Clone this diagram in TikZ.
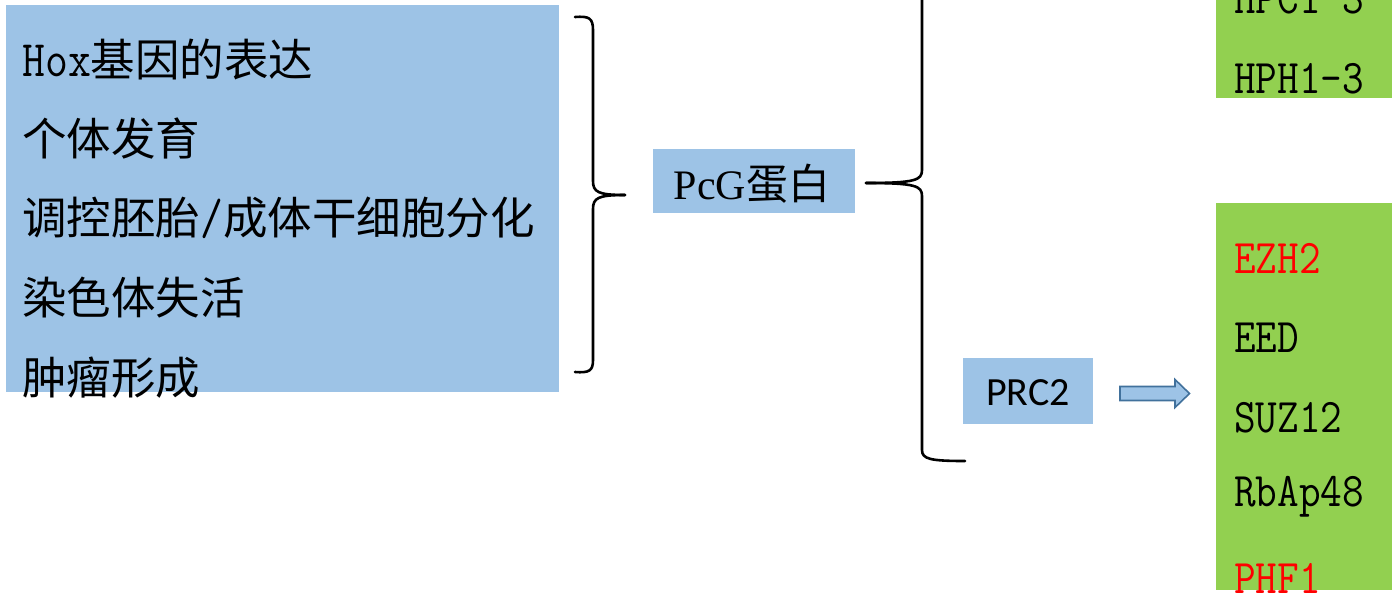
\documentclass[tikz,border=0pt]{standalone}
\usepackage{fontspec}
\usepackage{graphicx}
\newfontfamily\cjk{Noto Sans CJK SC}
\newfontfamily\tmsfont{Liberation Serif}
\newfontfamily\calfont{Carlito}
\definecolor{boxblue}{HTML}{9DC3E6}
\definecolor{boxgreen}{HTML}{92D050}
\definecolor{arrowedge}{HTML}{41719C}
\definecolor{tred}{HTML}{FF0000}
\newcommand{\mt}[1]{\scalebox{1}[1.15]{\ttfamily #1}}
\begin{document}
\begin{tikzpicture}[x=1pt,y=-1pt,
  panel/.style={inner sep=0pt, anchor=north west, draw=none},
  lbl/.style={inner sep=0pt, anchor=west, font=\cjk\fontsize{44.5}{50}\selectfont},
  mono/.style={inner sep=0pt, anchor=west, font=\fontsize{42}{48}\selectfont},
  brace/.style={line width=2.6pt, line cap=round, line join=round},
]
\useasboundingbox (0,0) rectangle (1392,592);
\clip (0,0) rectangle (1392,592);

% left panel
\node[panel, fill=boxblue, minimum width=553pt, minimum height=387pt] (left) at (6,5) {};
\node[lbl] (t1) at (22,59) {\mt{Hox}基因的表达};
\node[lbl] (t2) at (22,138) {个体发育};
\node[lbl] (t3) at (22,218) {调控胚胎\mt{/}成体干细胞分化};
\node[lbl] (t4) at (22,298) {染色体失活};
\node[lbl] (t5) at (22,378) {肿瘤形成};

% right brace after left panel
\coordinate (b1top) at (575,17);
\coordinate (b1tip) at (625,195);
\coordinate (b1bot) at (575,372);
\draw[brace] (b1top) .. controls (589,16) and (593,18) .. (593,30) -- (593,181)
  .. controls (593,192) and (598,195) .. (b1tip);
\draw[brace] (b1tip) .. controls (598,195) and (593,198) .. (593,209) -- (593,360)
  .. controls (593,371) and (589,373) .. (b1bot);

% PcG box
\node[panel, fill=boxblue, minimum width=202pt, minimum height=64pt] (pcg) at (653,149) {};
\node[inner sep=0pt, font=\fontsize{42}{48}\selectfont] (pcgt) at (752,184) {{\tmsfont PcG}{\cjk 蛋白}};

% left brace
\coordinate (b2top) at (965,-95);
\coordinate (b2tip) at (866,183);
\coordinate (b2bot) at (965,461);
\draw[brace] (b2top) .. controls (930,-95) and (922,-92) .. (922,-80) -- (922,170)
  .. controls (922,180) and (916,183) .. (b2tip);
\draw[brace] (b2tip) .. controls (916,183) and (922,186) .. (922,196) -- (922,450)
  .. controls (922,459) and (930,461) .. (b2bot);

% PRC2
\node[panel, fill=boxblue, minimum width=130pt, minimum height=66pt] (prc2) at (963,358) {};
\node[inner sep=0pt, font=\calfont\fontsize{40}{46}\selectfont] (prc2t) at (1028,393) {PRC2};

% block arrow
\coordinate (ar) at (1120,393);
\draw[fill=boxblue, draw=arrowedge, line width=1.6pt, line join=miter]
  (1120,386.5) -- (1175,386.5) -- (1175,379.5) -- (1189.5,393.5) -- (1175,407.5)
  -- (1175,400.5) -- (1120,400.5) -- cycle;

% top green box
\node[panel, fill=boxgreen, minimum width=180pt, minimum height=200pt] (g1) at (1216,-102) {};
\node[mono] (h1) at (1234,-1) {\mt{HPC1-3}};
\node[mono] (h2) at (1234,79) {\mt{HPH1-3}};

% bottom green box
\node[panel, fill=boxgreen, minimum width=180pt, minimum height=387pt] (g2) at (1216,203) {};
\node[mono, text=tred] (p1) at (1234,258) {\mt{EZH2}};
\node[mono] (p2) at (1234,338) {\mt{EED}};
\node[mono] (p3) at (1234,418) {\mt{SUZ12}};
\node[mono] (p4) at (1234,497) {\mt{RbAp48}};
\node[mono, text=tred] (p5) at (1234,578) {\mt{PHF1}};
\end{tikzpicture}
\end{document}
